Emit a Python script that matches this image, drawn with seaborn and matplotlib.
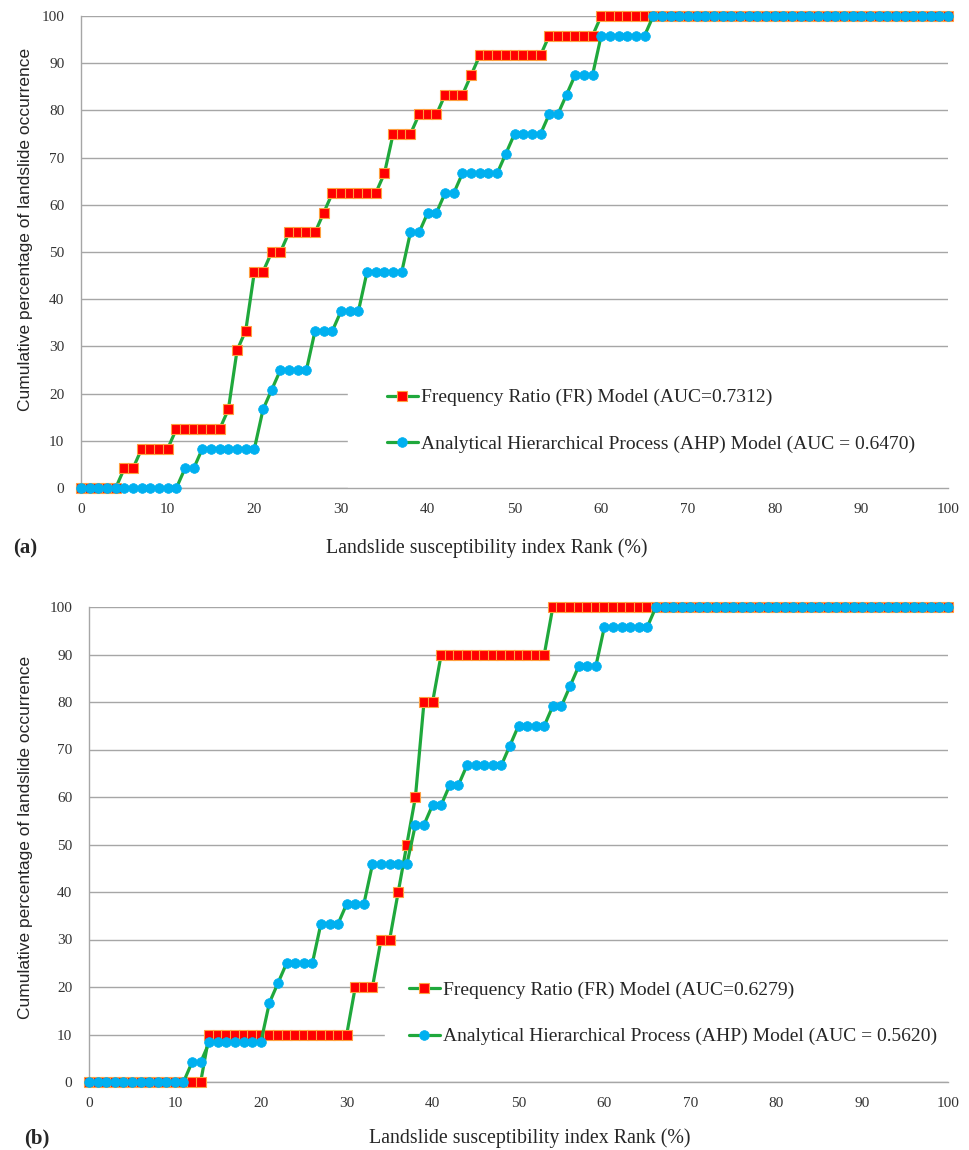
import matplotlib
matplotlib.use('Agg')
import matplotlib.pyplot as plt
import seaborn as sns

# Landslide susceptibility index rank (%)
rank = list(range(101))

# (a) cumulative percentage of landslide occurrence
fr_a = [0, 0, 0, 0, 0, 4.17, 4.17, 8.33, 8.33, 8.33,
        8.33, 12.5, 12.5, 12.5, 12.5, 12.5, 12.5, 16.67, 29.17, 33.33,
        45.83, 45.83, 50, 50, 54.17, 54.17, 54.17, 54.17, 58.33, 62.5,
        62.5, 62.5, 62.5, 62.5, 62.5, 66.67, 75, 75, 75, 79.17,
        79.17, 79.17, 83.33, 83.33, 83.33, 87.5, 91.67, 91.67, 91.67, 91.67,
        91.67, 91.67, 91.67, 91.67, 95.83, 95.83, 95.83, 95.83, 95.83, 95.83,
        100, 100, 100, 100, 100, 100, 100, 100, 100, 100,
        100, 100, 100, 100, 100, 100, 100, 100, 100, 100,
        100, 100, 100, 100, 100, 100, 100, 100, 100, 100,
        100, 100, 100, 100, 100, 100, 100, 100, 100, 100,
        100]

ahp = [0, 0, 0, 0, 0, 0, 0, 0, 0, 0,
       0, 0, 4.17, 4.17, 8.33, 8.33, 8.33, 8.33, 8.33, 8.33,
       8.33, 16.67, 20.83, 25, 25, 25, 25, 33.33, 33.33, 33.33,
       37.5, 37.5, 37.5, 45.83, 45.83, 45.83, 45.83, 45.83, 54.17, 54.17,
       58.33, 58.33, 62.5, 62.5, 66.67, 66.67, 66.67, 66.67, 66.67, 70.83,
       75, 75, 75, 75, 79.17, 79.17, 83.33, 87.5, 87.5, 87.5,
       95.83, 95.83, 95.83, 95.83, 95.83, 95.83, 100, 100, 100, 100,
       100, 100, 100, 100, 100, 100, 100, 100, 100, 100,
       100, 100, 100, 100, 100, 100, 100, 100, 100, 100,
       100, 100, 100, 100, 100, 100, 100, 100, 100, 100,
       100]

# (b)
fr_b = [0, 0, 0, 0, 0, 0, 0, 0, 0, 0,
        0, 0, 0, 0, 10, 10, 10, 10, 10, 10,
        10, 10, 10, 10, 10, 10, 10, 10, 10, 10,
        10, 20, 20, 20, 30, 30, 40, 50, 60, 80,
        80, 90, 90, 90, 90, 90, 90, 90, 90, 90,
        90, 90, 90, 90, 100, 100, 100, 100, 100, 100,
        100, 100, 100, 100, 100, 100, 100, 100, 100, 100,
        100, 100, 100, 100, 100, 100, 100, 100, 100, 100,
        100, 100, 100, 100, 100, 100, 100, 100, 100, 100,
        100, 100, 100, 100, 100, 100, 100, 100, 100, 100,
        100]

labels_a = ['Frequency Ratio (FR) Model (AUC=0.7312)',
            'Analytical Hierarchical Process (AHP) Model (AUC = 0.6470)']
labels_b = ['Frequency Ratio (FR) Model (AUC=0.6279)',
            'Analytical Hierarchical Process (AHP) Model (AUC = 0.5620)']

ticks = [0, 10, 20, 30, 40, 50, 60, 70, 80, 90, 100]

GREEN = '#1fa83c'
RED = '#ff0000'
ORANGE = '#ffa040'
BLUE = '#00b0f0'
GRID = '#a6a6a6'

sns.set_style('white')
plt.rcParams['font.family'] = ['Liberation Serif', 'DejaVu Serif']

W, H = 969, 1150
fig = plt.figure(figsize=(W / 100, H / 100), dpi=100)


def draw_panel(box, fr, labels, leg_x, leg_y, pad):
    left, top, right, bottom = box
    ax = fig.add_axes([left / W, 1 - bottom / H, (right - left) / W, (bottom - top) / H])
    sns.lineplot(x=rank, y=fr, ax=ax, color=GREEN, lw=2.3, marker='s', ms=6.5,
                 markerfacecolor=RED, markeredgecolor=ORANGE, markeredgewidth=0.8,
                 clip_on=False, zorder=3, label=labels[0])
    sns.lineplot(x=rank, y=ahp, ax=ax, color=GREEN, lw=2.3, marker='o', ms=7,
                 markerfacecolor=BLUE, markeredgecolor=BLUE, markeredgewidth=0.5,
                 clip_on=False, zorder=4, label=labels[1])
    ax.set_xlim(0, 100)
    ax.set_ylim(0, 100)
    ax.set_xticks(ticks)
    ax.set_yticks(ticks)
    ax.set_axisbelow(True)
    ax.yaxis.grid(True, color=GRID, lw=1)
    ax.xaxis.grid(False)
    for s in ['top', 'right']:
        ax.spines[s].set_visible(False)
    for s in ['left', 'bottom']:
        ax.spines[s].set_color(GRID)
        ax.spines[s].set_linewidth(1)
    ax.tick_params(axis='both', direction='out', length=6, width=1, color=GRID,
                   labelsize=11, labelcolor='#333333')
    ax.tick_params(axis='x', pad=5)
    ax.tick_params(axis='y', pad=6)
    ax.set_xlabel('')
    ax.set_ylabel('')
    handles = ax.get_lines()[:2]
    leg = ax.legend(handles, labels, loc='center', mode='expand',
                    bbox_to_anchor=(leg_x, leg_y - 0.1, 1.02 - leg_x, 0.2),
                    borderaxespad=0, frameon=True, facecolor='white',
                    edgecolor='white', framealpha=1, fancybox=False,
                    borderpad=pad, labelspacing=1.5, handlelength=1.6,
                    handletextpad=0.15, prop={'size': 14})
    # keep the axis line visible above the white legend box
    leg.set_zorder(2.4)
    return ax


draw_panel((81, 16, 948, 488), fr_a, labels_a, 0.308, 0.142, 2.0)
draw_panel((89, 607, 948, 1082), fr_b, labels_b, 0.345, 0.145, 1.2)

ylab = 'Cumulative percentage of landslide occurrence'
xlab = 'Landslide susceptibility index Rank (%)'
ysans = ['Liberation Sans', 'DejaVu Sans']
fig.text(26 / W, 1 - 229 / H, ylab, rotation=90, ha='center', va='center',
         fontsize=12.5, family=ysans)
fig.text(26 / W, 1 - 837 / H, ylab, rotation=90, ha='center', va='center',
         fontsize=12.5, family=ysans)
fig.text(487 / W, 1 - 548 / H, xlab, ha='center', va='center', fontsize=14.3)
fig.text(530 / W, 1 - 1138 / H, xlab, ha='center', va='center', fontsize=14.3)
fig.text(25 / W, 1 - 548 / H, '(a)', ha='center', va='center', fontsize=15, fontweight='bold')
fig.text(37 / W, 1 - 1138 / H, '(b)', ha='center', va='center', fontsize=15, fontweight='bold')

fig.savefig('out.png', dpi=100)
